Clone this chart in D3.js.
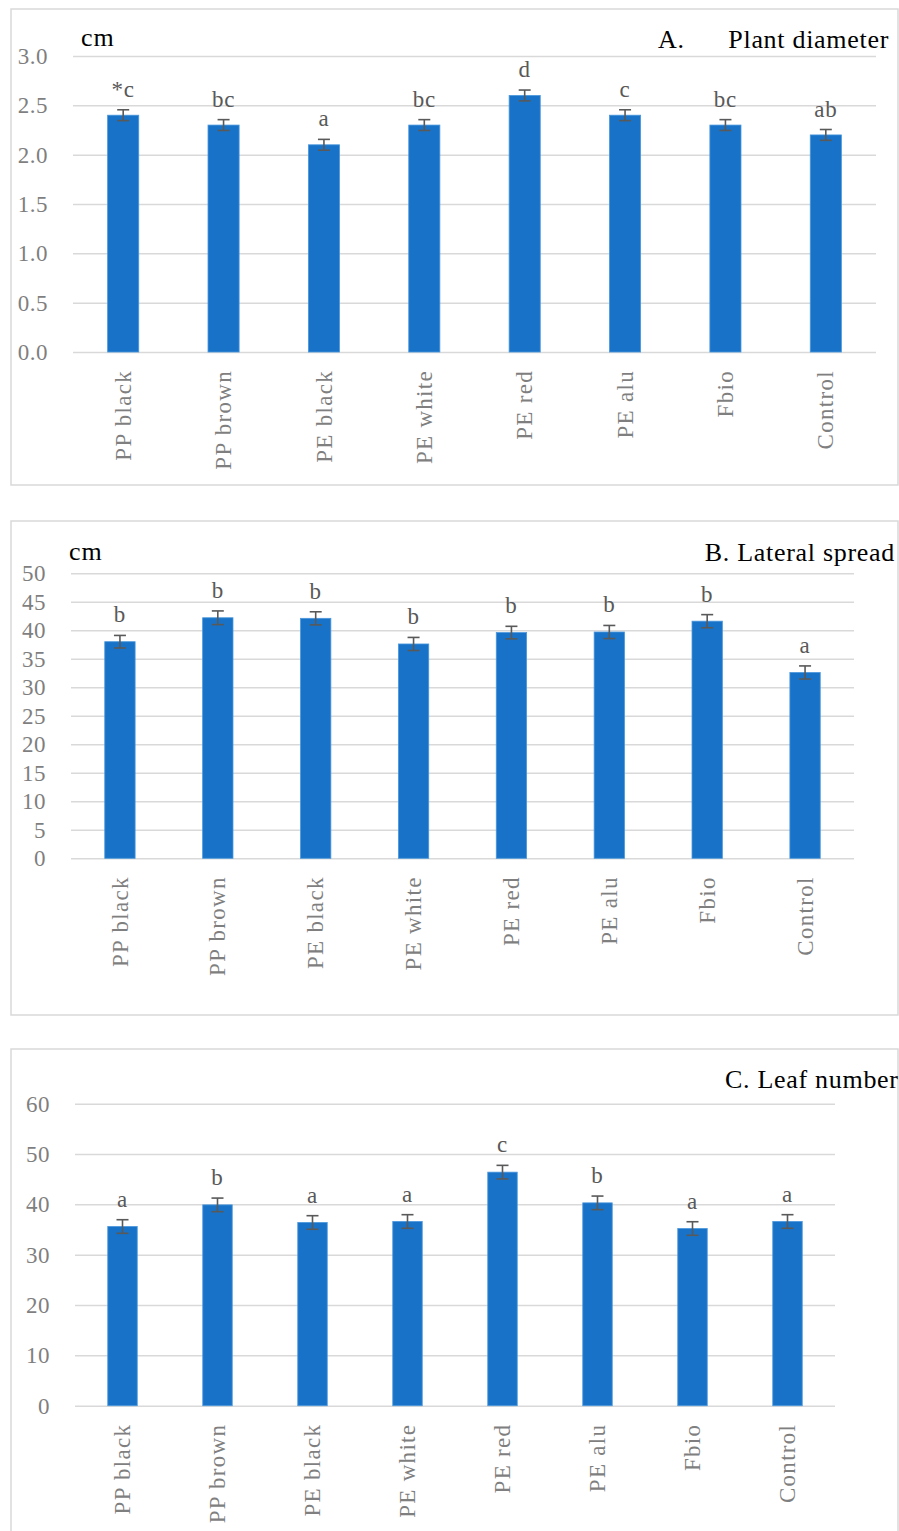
<!DOCTYPE html>
<html>
<head>
<meta charset="utf-8">
<script src="https://cdn.jsdelivr.net/npm/d3@7"></script>
<style>
  body { margin: 0; background: #fff; }
  svg text { font-family: "Palatino Linotype", "Book Antiqua", Palatino, "Liberation Serif", serif; }
  .grid line { stroke: #d9d9d9; stroke-width: 1.5; }
  .grid text { fill: #7f7f7f; font-size: 23px; letter-spacing: 0.5px; }
  .cat text { fill: #7f7f7f; font-size: 23px; letter-spacing: 1.3px; }
</style>
</head>
<body>
<div id="chart"></div>
<script>
// categories shared by all three panels
const categories = ["PP black", "PP brown", "PE black", "PE white", "PE red", "PE alu", "Fbio", "Control"];

// A. plant diameter (cm)
const diameterMeans = [2.40, 2.30, 2.10, 2.30, 2.60, 2.40, 2.30, 2.20];
const diameterErr = [0.055, 0.055, 0.055, 0.055, 0.055, 0.055, 0.055, 0.055];
const diameterLetters = ["*c", "bc", "a", "bc", "d", "c", "bc", "ab"];
const diameterTicks = [0, 0.5, 1.0, 1.5, 2.0, 2.5, 3.0];

// B. lateral spread (cm)
const spreadMeans = [38.0, 42.2, 42.1, 37.6, 39.6, 39.7, 41.6, 32.6];
const spreadErr = [1.1, 1.2, 1.15, 1.15, 1.1, 1.15, 1.15, 1.15];
const spreadLetters = ["b", "b", "b", "b", "b", "b", "b", "a"];
const spreadTicks = [0, 5, 10, 15, 20, 25, 30, 35, 40, 45, 50];

// C. leaf number
const leafMeans = [35.6, 39.9, 36.4, 36.6, 46.4, 40.3, 35.2, 36.6];
const leafErr = [1.35, 1.35, 1.35, 1.35, 1.35, 1.35, 1.35, 1.35];
const leafLetters = ["a", "b", "a", "a", "c", "b", "a", "a"];
const leafTicks = [0, 10, 20, 30, 40, 50, 60];

const svg = d3.select("#chart").append("svg")
    .attr("width", 899)
    .attr("height", 1531);

function drawPanel(p) {
    // frame round the panel
    svg.append("rect")
        .attr("x", p.frame.x).attr("y", p.frame.y)
        .attr("width", p.frame.w).attr("height", p.frame.h)
        .attr("fill", "none")
        .attr("stroke", "#d9d9d9")
        .attr("stroke-width", 1.5);

    const x = d3.scaleBand()
        .domain(categories)
        .range([p.left, p.right])
        .paddingInner(0.69)
        .paddingOuter(0.345);

    const y = d3.scaleLinear([0, d3.max(p.ticks)], [p.bottom, p.top]);

    // gridlines + tick labels
    const yAxis = d3.axisLeft(y)
        .tickValues(p.ticks)
        .tickFormat(d3.format(p.fmt))
        .tickSizeInner(-(p.right - p.left))
        .tickSizeOuter(0)
        .tickPadding(25);
    const g = svg.append("g")
        .attr("class", "grid")
        .attr("transform", `translate(${p.left},0)`)
        .call(yAxis);
    g.select(".domain").remove();
    g.selectAll("text").attr("x", -(p.left - p.labelRight));

    // bars
    svg.selectAll(null)
        .data(p.means)
        .join("rect")
        .attr("x", (d, i) => x(categories[i]))
        .attr("y", d => y(d))
        .attr("width", x.bandwidth())
        .attr("height", d => y(0) - y(d))
        .attr("fill", "#1873c8")
        .attr("stroke", "#4a97dc")
        .attr("stroke-width", 0.8);

    // error bars
    const cx = i => x(categories[i]) + x.bandwidth() / 2;
    const eb = svg.append("g")
        .attr("stroke", "#595959")
        .attr("stroke-width", 1.6);
    p.means.forEach((m, i) => {
        const e = p.err[i];
        eb.append("line").attr("x1", cx(i)).attr("x2", cx(i)).attr("y1", y(m + e)).attr("y2", y(m - e));
        eb.append("line").attr("x1", cx(i) - 6).attr("x2", cx(i) + 6).attr("y1", y(m + e)).attr("y2", y(m + e));
        eb.append("line").attr("x1", cx(i) - 6).attr("x2", cx(i) + 6).attr("y1", y(m - e)).attr("y2", y(m - e));
    });

    // significance letters
    svg.selectAll(null)
        .data(p.letters)
        .join("text")
        .attr("x", (d, i) => cx(i))
        .attr("y", (d, i) => y(p.means[i] + p.err[i]) - 13)
        .attr("text-anchor", "middle")
        .attr("fill", "#595959")
        .style("font-size", "23px")
        .style("letter-spacing", "0.8px")
        .text(d => d);

    // category labels, rotated
    svg.append("g")
        .attr("class", "cat")
        .selectAll("text")
        .data(categories)
        .join("text")
        .attr("transform", d => `translate(${x(d) + x.bandwidth() / 2},${p.bottom + 18}) rotate(-90)`)
        .attr("text-anchor", "end")
        .attr("dy", "0.33em")
        .text(d => d);

    if (p.unit) {
        svg.append("text")
            .attr("x", p.unit.x).attr("y", p.unit.y)
            .attr("fill", "#000")
            .style("font-size", "26px")
            .style("letter-spacing", "1px")
            .text("cm");
    }

    p.title.forEach(t => {
        svg.append("text")
            .attr("x", t.x).attr("y", t.y)
            .attr("text-anchor", t.anchor)
            .attr("fill", "#000")
            .style("font-size", "26px")
            .style("letter-spacing", "0.7px")
            .text(t.text);
    });
}

drawPanel({
    frame: {x: 11, y: 9, w: 887, h: 476},
    left: 73, right: 876, top: 56, bottom: 352, labelRight: 48,
    ticks: diameterTicks, fmt: ".1f",
    means: diameterMeans, err: diameterErr, letters: diameterLetters,
    unit: {x: 81, y: 46},
    title: [{text: "A.", x: 658, y: 48, anchor: "start"},
            {text: "Plant diameter", x: 889, y: 48, anchor: "end"}]
});

drawPanel({
    frame: {x: 11, y: 521, w: 887, h: 494},
    left: 71, right: 854, top: 573.3, bottom: 858.3, labelRight: 46,
    ticks: spreadTicks, fmt: "d",
    means: spreadMeans, err: spreadErr, letters: spreadLetters,
    unit: {x: 69, y: 560},
    title: [{text: "B. Lateral spread", x: 895, y: 561, anchor: "end"}]
});

drawPanel({
    frame: {x: 11, y: 1049, w: 887, h: 500},
    left: 75, right: 835, top: 1103.7, bottom: 1405.7, labelRight: 50,
    ticks: leafTicks, fmt: "d",
    means: leafMeans, err: leafErr, letters: leafLetters,
    unit: null,
    title: [{text: "C. Leaf number", x: 725, y: 1088, anchor: "start"}]
});
</script>
</body>
</html>
